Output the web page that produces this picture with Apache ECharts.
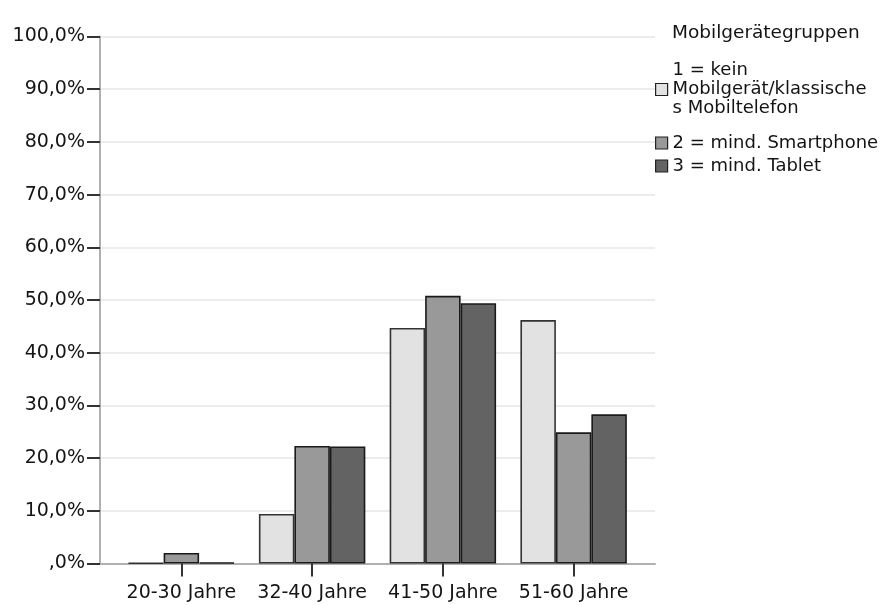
<!DOCTYPE html>
<html>
<head>
<meta charset="utf-8">
<script src="https://cdn.jsdelivr.net/npm/echarts@6/dist/echarts.min.js"></script>
<style>
html,body{margin:0;padding:0;background:#fff;}
#c{width:883px;height:605px;}
</style>
</head>
<body>
<div id="c"></div>
<script>
var categories = ['20-30 Jahre', '32-40 Jahre', '41-50 Jahre', '51-60 Jahre'];
var seriesNames = ['1 = kein\nMobilgerät/klassische\ns Mobiltelefon', '2 = mind. Smartphone', '3 = mind. Tablet'];
var keinMobil = [0.1, 9.4, 44.7, 46.2];
var smartphone = [2.0, 22.3, 50.8, 24.9];
var tablet = [0.2, 22.2, 49.4, 28.3];
var yMin = 0, yMax = 100, yStep = 10;
var legendTitle = 'Mobilgerätegruppen';

var FONT = 'DejaVu Sans';
var TXT = '#141414';
var colors = ['#e2e2e2', '#999999', '#636363'];
var borders = ['#333333', '#1a1a1a', '#1a1a1a'];
var values = [keinMobil, smartphone, tablet];

function fmt(v) {
  if (v === 0) return ',0%';
  return v.toFixed(1).replace('.', ',') + '%';
}

var chart = echarts.init(document.getElementById('c'), null, {renderer: 'canvas'});

var series = values.map(function (arr, i) {
  return {
    name: seriesNames[i],
    type: 'bar',
    xAxisIndex: 1,
    yAxisIndex: 1,
    data: arr,
    barGap: '0%',
    barCategoryGap: '18.6%',
    itemStyle: {color: colors[i], borderColor: borders[i], borderWidth: 1.6},
    emphasis: {disabled: true},
    animation: false
  };
});

var legendText = {fontFamily: FONT, fontSize: 18, color: TXT, lineHeight: 19};

var option = {
  animation: false,
  backgroundColor: '#ffffff',
  title: {
    text: legendTitle,
    left: 672,
    top: 23,
    padding: 0,
    textStyle: {fontFamily: FONT, fontSize: 18.5, fontWeight: 'normal', color: TXT, lineHeight: 20}
  },
  legend: [
    {
      data: [seriesNames[0]],
      orient: 'vertical',
      left: 655,
      top: 61,
      padding: 0,
      itemWidth: 12,
      itemHeight: 12,
      itemGap: 4,
      icon: 'rect',
      selectedMode: false,
      itemStyle: {borderColor: '#222', borderWidth: 1.2},
      textStyle: legendText
    },
    {
      data: [seriesNames[1], seriesNames[2]],
      orient: 'vertical',
      left: 655,
      top: 133.5,
      padding: 0,
      itemWidth: 12,
      itemHeight: 12,
      itemGap: 4,
      icon: 'rect',
      selectedMode: false,
      itemStyle: {borderColor: '#222', borderWidth: 1.2},
      textStyle: legendText
    }
  ],
  grid: [
    {left: 100, right: 228, top: 36.5, bottom: 41.5},
    {left: 116, right: 244, top: 36.5, bottom: 41.5}
  ],
  xAxis: [
    {
      gridIndex: 0,
      type: 'value',
      min: 0,
      max: 1,
      axisLine: {show: true, onZero: false, lineStyle: {color: '#b0b0b0', width: 2}},
      axisTick: {show: false},
      axisLabel: {show: false},
      splitLine: {show: false}
    },
    {
      gridIndex: 1,
      type: 'category',
      data: categories,
      axisLine: {show: false},
      axisTick: {show: true, alignWithLabel: true, interval: 0, length: 13, lineStyle: {color: '#333', width: 2}},
      axisLabel: {interval: 0, fontFamily: FONT, fontSize: 19, color: TXT, margin: 20},
      splitLine: {show: false}
    }
  ],
  yAxis: [
    {
      gridIndex: 0,
      type: 'value',
      min: yMin,
      max: yMax,
      interval: yStep,
      axisLine: {show: true, lineStyle: {color: '#b0b0b0', width: 2}},
      axisTick: {show: true, length: 13, lineStyle: {color: '#333', width: 2}},
      axisLabel: {fontFamily: FONT, fontSize: 19, color: TXT, margin: 15, formatter: fmt},
      splitLine: {show: true, lineStyle: {color: '#e6e6e6', width: 1.5}}
    },
    {
      gridIndex: 1,
      type: 'value',
      min: yMin,
      max: yMax,
      interval: yStep,
      show: false,
      splitLine: {show: false}
    }
  ],
  series: series
};

chart.setOption(option);
</script>
</body>
</html>
